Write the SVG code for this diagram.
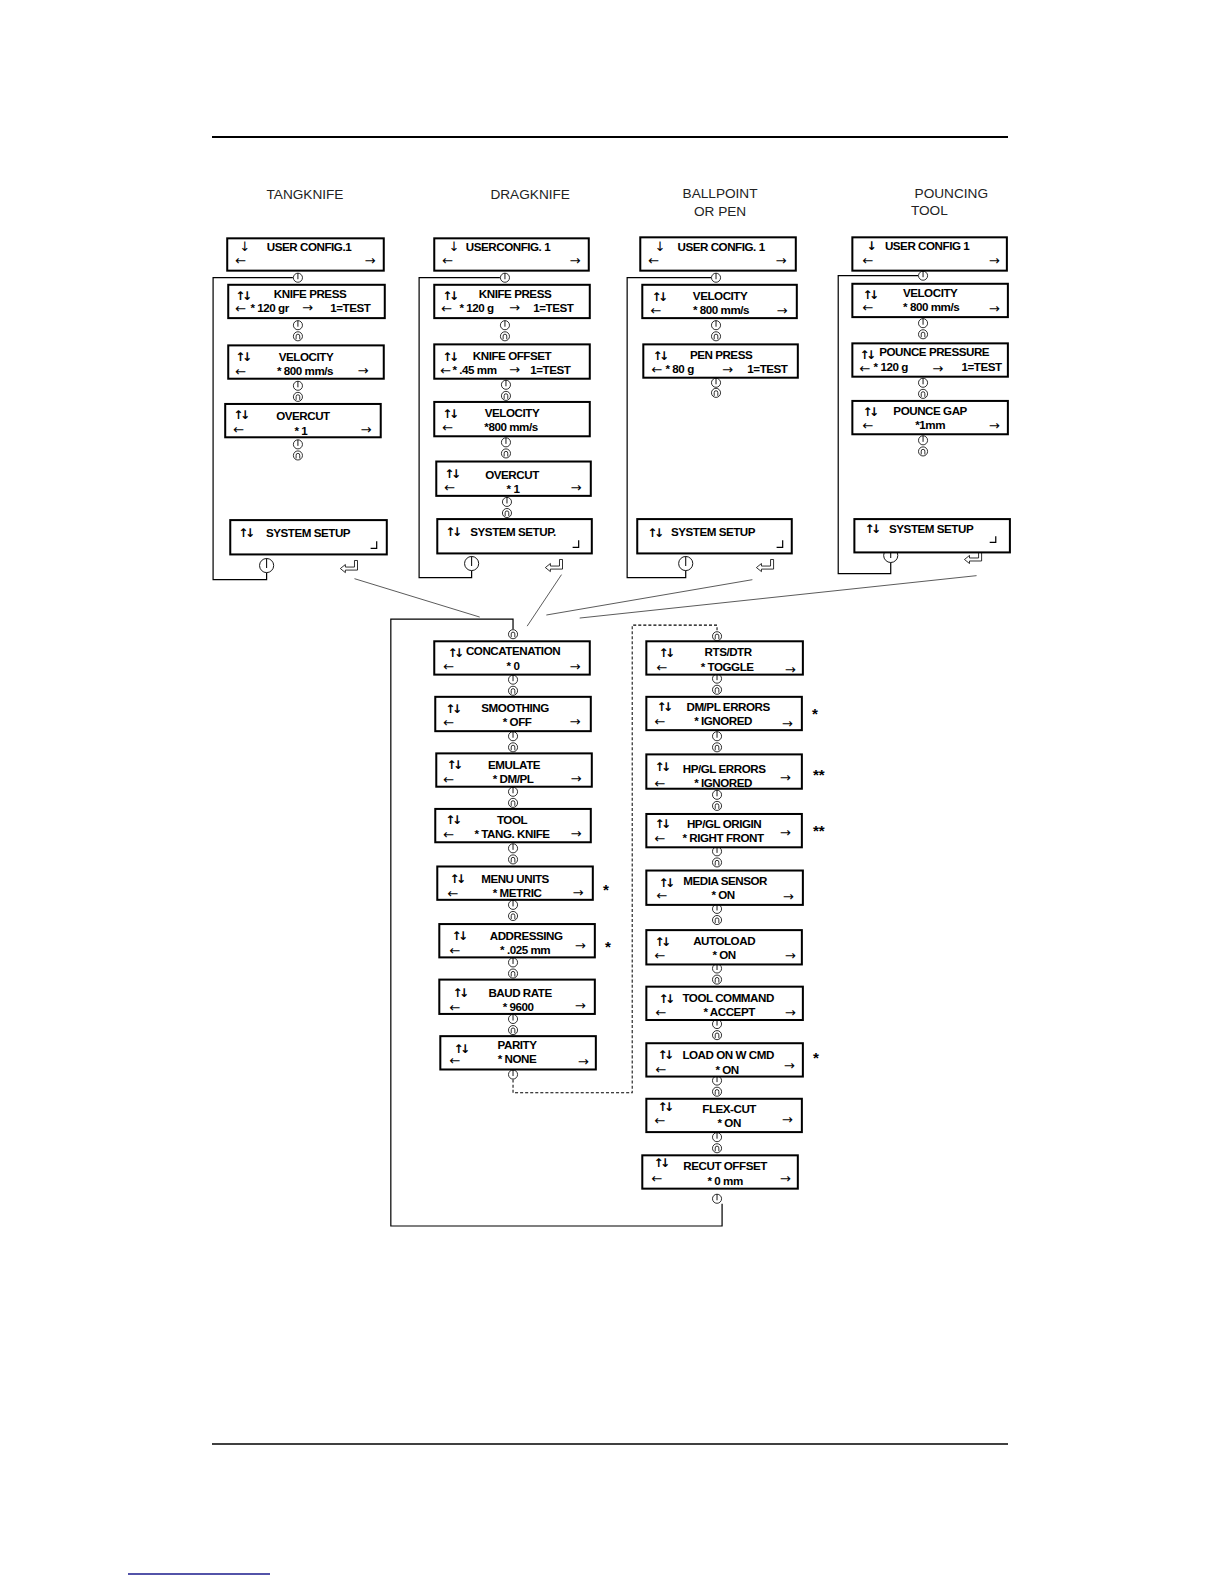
<svg xmlns="http://www.w3.org/2000/svg" xmlns:xlink="http://www.w3.org/1999/xlink" width="1224" height="1584" viewBox="0 0 1224 1584">
<style>
.bx{fill:#fff;stroke:#000;stroke-width:2}
.l{font-family:"Liberation Sans",Arial,sans-serif;font-size:11.5px;font-weight:bold;letter-spacing:-0.45px;text-anchor:middle;fill:#000}
.s{font-family:"Liberation Sans",Arial,sans-serif;font-size:11.5px;font-weight:bold;letter-spacing:-0.45px;fill:#000}
.ar{font-family:"DejaVu Sans",sans-serif;font-size:13px;fill:#000}
.ud{font-family:"DejaVu Sans",sans-serif;font-size:12px;font-weight:bold;letter-spacing:-3.5px;fill:#000}
.h{font-family:"Liberation Sans",Arial,sans-serif;font-size:13.5px;fill:#222;text-anchor:middle}
.st{font-family:"Liberation Sans",Arial,sans-serif;font-size:15px;font-weight:bold;fill:#000}
.ln{fill:none;stroke:#000;stroke-width:1.2}
.thin{fill:none;stroke:#333;stroke-width:0.8}
.dash{fill:none;stroke:#000;stroke-width:1;stroke-dasharray:3,2}
.ent{fill:none;stroke:#000;stroke-width:1.2}
.rule{stroke:#000;stroke-width:2}
</style>
<defs>
<g id="cd"><circle r="4.5" fill="#fff" stroke="#000" stroke-width="0.8"/><path d="M0,-4.5V1.5" stroke="#000" stroke-width="0.9" fill="none"/></g>
<g id="cu"><circle r="4.5" fill="#fff" stroke="#000" stroke-width="0.8"/><path d="M-1.8,3V-0.3a1.8,1.8 0 0 1 3.6,0V3" stroke="#000" stroke-width="0.8" fill="none"/></g>
<g id="cb"><circle r="7" fill="#fff" stroke="#000" stroke-width="0.9"/><path d="M0,-7V2.5" stroke="#000" stroke-width="1" fill="none"/></g>
<g id="ea"><polygon points="0,0 5,-4 5,-1.5 14,-1.5 14,-8 17,-8 17,1.5 5,1.5 5,4" fill="#fff" stroke="#000" stroke-width="0.8"/></g>
</defs>
<rect width="1224" height="1584" fill="#fff"/>
<line class="rule" x1="212" y1="137" x2="1008" y2="137"/>
<line x1="212" y1="1444" x2="1008" y2="1444" stroke="#000" stroke-width="1.5"/>
<line x1="128" y1="1574" x2="270" y2="1574" stroke="#1a1a8c" stroke-width="1.5"/>
<g transform="scale(1.0099)">
<g id="headers">
<text class="h" x="302" y="197">TANGKNIFE</text>
<text class="h" x="525" y="197">DRAGKNIFE</text>
<text class="h" x="713" y="196">BALLPOINT</text>
<text class="h" x="713" y="214">OR PEN</text>
<text class="h" x="942" y="196">POUNCING</text>
<text class="h" x="902" y="213" style="text-anchor:start">TOOL</text>
</g>
<g id="connectors">
<path class="ln" d="M290,275H211V574H264V567"/>
<path class="ln" d="M495,275H415V572H467V565"/>
<path class="ln" d="M704,275H621V572H679V565"/>
<path class="ln" d="M909,273H830V568H882V557"/>
<line class="thin" x1="351" y1="573" x2="475" y2="611"/>
<line class="thin" x1="556" y1="569" x2="522" y2="620"/>
<line class="thin" x1="745" y1="574" x2="541" y2="609"/>
<line class="thin" x1="967" y1="570" x2="574" y2="612"/>
<path class="ln" d="M715,1192V1214H387V613H508V623"/>
<path class="dash" d="M508,1069V1082H626V619H710V625"/>
</g>
<g id="symbols">
<use xlink:href="#cd" x="295" y="275"/><use xlink:href="#cd" x="295" y="322"/><use xlink:href="#cu" x="295" y="333"/><use xlink:href="#cd" x="295" y="382"/><use xlink:href="#cu" x="295" y="393"/><use xlink:href="#cd" x="295" y="440"/><use xlink:href="#cu" x="295" y="451"/><use xlink:href="#cb" x="264" y="560"/><use xlink:href="#ea" x="337" y="563"/>
<use xlink:href="#cd" x="500" y="275"/><use xlink:href="#cd" x="500" y="322"/><use xlink:href="#cu" x="500" y="333"/><use xlink:href="#cd" x="501" y="381"/><use xlink:href="#cu" x="501" y="392"/><use xlink:href="#cd" x="501" y="438"/><use xlink:href="#cu" x="501" y="449"/><use xlink:href="#cd" x="502" y="497"/><use xlink:href="#cu" x="502" y="508"/><use xlink:href="#cb" x="467" y="558"/><use xlink:href="#ea" x="540" y="562"/>
<use xlink:href="#cd" x="709" y="275"/><use xlink:href="#cd" x="709" y="322"/><use xlink:href="#cu" x="709" y="333"/><use xlink:href="#cd" x="709" y="379"/><use xlink:href="#cu" x="709" y="389"/><use xlink:href="#cb" x="679" y="558"/><use xlink:href="#ea" x="749" y="562"/>
<use xlink:href="#cd" x="914" y="273"/><use xlink:href="#cd" x="914" y="320"/><use xlink:href="#cu" x="914" y="331"/><use xlink:href="#cd" x="914" y="379"/><use xlink:href="#cu" x="914" y="390"/><use xlink:href="#cd" x="914" y="436"/><use xlink:href="#cu" x="914" y="447"/><use xlink:href="#cb" x="882" y="550"/><use xlink:href="#ea" x="955" y="554"/>
<use xlink:href="#cu" x="508" y="628"/><use xlink:href="#cd" x="508" y="673"/><use xlink:href="#cu" x="508" y="684"/><use xlink:href="#cd" x="508" y="729"/><use xlink:href="#cu" x="508" y="740"/><use xlink:href="#cd" x="508" y="784"/><use xlink:href="#cu" x="508" y="795"/><use xlink:href="#cd" x="508" y="840"/><use xlink:href="#cu" x="508" y="851"/><use xlink:href="#cd" x="508" y="896"/><use xlink:href="#cu" x="508" y="907"/><use xlink:href="#cd" x="508" y="953"/><use xlink:href="#cu" x="508" y="964"/><use xlink:href="#cd" x="508" y="1009"/><use xlink:href="#cu" x="508" y="1020"/><use xlink:href="#cd" x="508" y="1064"/>
<use xlink:href="#cu" x="710" y="630"/><use xlink:href="#cd" x="710" y="672"/><use xlink:href="#cu" x="710" y="683"/><use xlink:href="#cd" x="710" y="729"/><use xlink:href="#cu" x="710" y="740"/><use xlink:href="#cd" x="710" y="787"/><use xlink:href="#cu" x="710" y="798"/><use xlink:href="#cd" x="710" y="843"/><use xlink:href="#cu" x="710" y="854"/><use xlink:href="#cd" x="710" y="900"/><use xlink:href="#cu" x="710" y="911"/><use xlink:href="#cd" x="710" y="959"/><use xlink:href="#cu" x="710" y="970"/><use xlink:href="#cd" x="710" y="1014"/><use xlink:href="#cu" x="710" y="1025"/><use xlink:href="#cd" x="710" y="1070"/><use xlink:href="#cu" x="710" y="1081"/><use xlink:href="#cd" x="710" y="1126"/><use xlink:href="#cu" x="710" y="1137"/><use xlink:href="#cd" x="710" y="1187"/>
</g>
<!-- TANGKNIFE -->
<g id="t1"><rect class="bx" x="225" y="236" width="155" height="32"/><text class="ar" x="237" y="249">↓</text><text class="l" x="306" y="249">USER CONFIG.1</text><text class="ar" x="233" y="262">←</text><text class="ar" x="361" y="262">→</text></g>
<g id="t2"><rect class="bx" x="226" y="282" width="155" height="33"/><text class="ud" x="233" y="297">↑↓</text><text class="l" x="307" y="295">KNIFE PRESS</text><text class="ar" x="233" y="310">←</text><text class="s" x="248" y="309">* 120 gr</text><text class="ar" x="299" y="309">→</text><text class="s" x="327" y="309">1=TEST</text></g>
<g id="t3"><rect class="bx" x="226" y="342" width="154" height="33"/><text class="ud" x="233" y="357">↑↓</text><text class="l" x="303" y="357">VELOCITY</text><text class="ar" x="233" y="372">←</text><text class="l" x="302" y="371">* 800 mm/s</text><text class="ar" x="354" y="371">→</text></g>
<g id="t4"><rect class="bx" x="223" y="400" width="154" height="33"/><text class="ud" x="231" y="415">↑↓</text><text class="l" x="300" y="416">OVERCUT</text><text class="ar" x="231" y="430">←</text><text class="l" x="298" y="431">* 1</text><text class="ar" x="357" y="430">→</text></g>
<g id="t5"><rect class="bx" x="228" y="515" width="155" height="34"/><text class="ud" x="236" y="532">↑↓</text><text class="l" x="305" y="532">SYSTEM SETUP</text><path class="ent" d="M373,536V543H367"/></g>
<!-- DRAGKNIFE -->
<g id="d1"><rect class="bx" x="430" y="236" width="153" height="32"/><text class="ar" x="444" y="249">↓</text><text class="l" x="503" y="249">USERCONFIG. 1</text><text class="ar" x="438" y="262">←</text><text class="ar" x="564" y="262">→</text></g>
<g id="d2"><rect class="bx" x="430" y="282" width="154" height="33"/><text class="ud" x="438" y="297">↑↓</text><text class="l" x="510" y="295">KNIFE PRESS</text><text class="ar" x="437" y="310">←</text><text class="s" x="455" y="309">* 120 g</text><text class="ar" x="504" y="309">→</text><text class="s" x="528" y="309">1=TEST</text></g>
<g id="d3"><rect class="bx" x="430" y="341" width="154" height="34"/><text class="ud" x="438" y="357">↑↓</text><text class="l" x="507" y="356">KNIFE OFFSET</text><text class="ar" x="436" y="371">←</text><text class="s" x="448" y="370">* .45 mm</text><text class="ar" x="504" y="370">→</text><text class="s" x="525" y="370">1=TEST</text></g>
<g id="d4"><rect class="bx" x="430" y="398" width="154" height="34"/><text class="ud" x="438" y="414">↑↓</text><text class="l" x="507" y="413">VELOCITY</text><text class="ar" x="438" y="428">←</text><text class="l" x="506" y="427">*800 mm/s</text></g>
<g id="d5"><rect class="bx" x="432" y="457" width="153" height="34"/><text class="ud" x="440" y="473">↑↓</text><text class="l" x="507" y="474">OVERCUT</text><text class="ar" x="440" y="487">←</text><text class="l" x="508" y="488">* 1</text><text class="ar" x="565" y="487">→</text></g>
<g id="d6"><rect class="bx" x="433" y="514" width="153" height="34"/><text class="ud" x="441" y="531">↑↓</text><text class="l" x="508" y="531">SYSTEM SETUP.</text><path class="ent" d="M573,535V542H567"/></g>
<!-- BALLPOINT -->
<g id="b1"><rect class="bx" x="634" y="235" width="154" height="33"/><text class="ar" x="648" y="249">↓</text><text class="l" x="714" y="249">USER CONFIG. 1</text><text class="ar" x="642" y="262">←</text><text class="ar" x="768" y="262">→</text></g>
<g id="b2"><rect class="bx" x="636" y="282" width="153" height="33"/><text class="ud" x="645" y="298">↑↓</text><text class="l" x="713" y="297">VELOCITY</text><text class="ar" x="644" y="312">←</text><text class="l" x="714" y="311">* 800 mm/s</text><text class="ar" x="769" y="312">→</text></g>
<g id="b3"><rect class="bx" x="637" y="341" width="153" height="33"/><text class="ud" x="646" y="356">↑↓</text><text class="l" x="714" y="355">PEN PRESS</text><text class="ar" x="645" y="370">←</text><text class="s" x="659" y="369">* 80 g</text><text class="ar" x="715" y="370">→</text><text class="s" x="740" y="369">1=TEST</text></g>
<g id="b4"><rect class="bx" x="631" y="514" width="153" height="34"/><text class="ud" x="641" y="532">↑↓</text><text class="l" x="706" y="531">SYSTEM SETUP</text><path class="ent" d="M775,535V542H769"/></g>
<!-- POUNCING -->
<g id="p1"><rect class="bx" x="844" y="235" width="153" height="33"/><text class="ud" x="858" y="248">↓</text><text class="l" x="918" y="248">USER CONFIG 1</text><text class="ar" x="854" y="262">←</text><text class="ar" x="979" y="262">→</text></g>
<g id="p2"><rect class="bx" x="844" y="281" width="154" height="33"/><text class="ud" x="854" y="296">↑↓</text><text class="l" x="921" y="294">VELOCITY</text><text class="ar" x="854" y="309">←</text><text class="l" x="922" y="308">* 800 mm/s</text><text class="ar" x="979" y="310">→</text></g>
<g id="p3"><rect class="bx" x="844" y="340" width="154" height="33"/><text class="ud" x="851" y="355">↑↓</text><text class="l" x="925" y="353">POUNCE PRESSURE</text><text class="ar" x="851" y="369">←</text><text class="s" x="865" y="367">* 120 g</text><text class="ar" x="923" y="369">→</text><text class="s" x="952" y="367">1=TEST</text></g>
<g id="p4"><rect class="bx" x="844" y="397" width="154" height="33"/><text class="ud" x="854" y="412">↑↓</text><text class="l" x="921" y="411">POUNCE GAP</text><text class="ar" x="854" y="426">←</text><text class="l" x="921" y="425">*1mm</text><text class="ar" x="979" y="426">→</text></g>
<g id="p5"><rect class="bx" x="846" y="514" width="154" height="33"/><text class="ud" x="856" y="528">↑↓</text><text class="l" x="922" y="528">SYSTEM SETUP</text><path class="ent" d="M986,531V537H980"/></g>
<!-- SYSTEM SETUP LEFT -->
<g id="s1"><rect class="bx" x="430" y="635" width="154" height="33"/><text class="ud" x="443" y="651">↑↓</text><text class="l" x="508" y="649">CONCATENATION</text><text class="ar" x="439" y="664">←</text><text class="l" x="508" y="663">* 0</text><text class="ar" x="564" y="664">→</text></g>
<g id="s2"><rect class="bx" x="431" y="690" width="154" height="34"/><text class="ud" x="441" y="706">↑↓</text><text class="l" x="510" y="705">SMOOTHING</text><text class="ar" x="439" y="720">←</text><text class="l" x="512" y="719">* OFF</text><text class="ar" x="564" y="719">→</text></g>
<g id="s3"><rect class="bx" x="432" y="746" width="154" height="33"/><text class="ud" x="442" y="761">↑↓</text><text class="l" x="509" y="761">EMULATE</text><text class="ar" x="439" y="776">←</text><text class="l" x="508" y="775">* DM/PL</text><text class="ar" x="565" y="775">→</text></g>
<g id="s4"><rect class="bx" x="431" y="801" width="154" height="33"/><text class="ud" x="441" y="816">↑↓</text><text class="l" x="507" y="816">TOOL</text><text class="ar" x="439" y="831">←</text><text class="l" x="507" y="830">* TANG. KNIFE</text><text class="ar" x="565" y="830">→</text></g>
<g id="s5"><rect class="bx" x="433" y="858" width="154" height="33"/><text class="ud" x="445" y="874">↑↓</text><text class="l" x="510" y="874">MENU UNITS</text><text class="ar" x="443" y="889">←</text><text class="l" x="512" y="888">* METRIC</text><text class="ar" x="567" y="888">→</text><text class="st" x="597" y="886">*</text></g>
<g id="s6"><rect class="bx" x="435" y="915" width="154" height="33"/><text class="ud" x="447" y="931">↑↓</text><text class="l" x="521" y="931">ADDRESSING</text><text class="ar" x="445" y="946">←</text><text class="l" x="520" y="945">* .025 mm</text><text class="ar" x="569" y="941">→</text><text class="st" x="599" y="943">*</text></g>
<g id="s7"><rect class="bx" x="435" y="970" width="154" height="34"/><text class="ud" x="448" y="987">↑↓</text><text class="l" x="515" y="987">BAUD RATE</text><text class="ar" x="445" y="1002">←</text><text class="l" x="513" y="1001">* 9600</text><text class="ar" x="569" y="1000">→</text></g>
<g id="s8"><rect class="bx" x="436" y="1026" width="154" height="33"/><text class="ud" x="449" y="1043">↑↓</text><text class="l" x="512" y="1039">PARITY</text><text class="ar" x="445" y="1055">←</text><text class="l" x="512" y="1053">* NONE</text><text class="ar" x="572" y="1056">→</text></g>
<!-- SYSTEM SETUP RIGHT -->
<g id="r1"><rect class="bx" x="640" y="635" width="155" height="33"/><text class="ud" x="652" y="651">↑↓</text><text class="l" x="721" y="650">RTS/DTR</text><text class="ar" x="650" y="665">←</text><text class="l" x="720" y="664">* TOGGLE</text><text class="ar" x="777" y="667">→</text></g>
<g id="r2"><rect class="bx" x="640" y="690" width="154" height="33"/><text class="ud" x="650" y="704">↑↓</text><text class="l" x="721" y="704">DM/PL ERRORS</text><text class="ar" x="648" y="719">←</text><text class="l" x="716" y="718">* IGNORED</text><text class="ar" x="774" y="721">→</text><text class="st" x="804" y="712">*</text></g>
<g id="r3"><rect class="bx" x="640" y="747" width="154" height="34"/><text class="ud" x="648" y="763">↑↓</text><text class="l" x="717" y="765">HP/GL ERRORS</text><text class="ar" x="648" y="780">←</text><text class="l" x="716" y="779">* IGNORED</text><text class="ar" x="772" y="774">→</text><text class="st" x="805" y="772">**</text></g>
<g id="r4"><rect class="bx" x="640" y="806" width="154" height="33"/><text class="ud" x="648" y="820">↑↓</text><text class="l" x="717" y="820">HP/GL ORIGIN</text><text class="ar" x="648" y="835">←</text><text class="l" x="716" y="834">* RIGHT FRONT</text><text class="ar" x="772" y="829">→</text><text class="st" x="805" y="828">**</text></g>
<g id="r5"><rect class="bx" x="640" y="862" width="155" height="34"/><text class="ud" x="652" y="878">↑↓</text><text class="l" x="718" y="876">MEDIA SENSOR</text><text class="ar" x="650" y="891">←</text><text class="l" x="716" y="890">* ON</text><text class="ar" x="775" y="892">→</text></g>
<g id="r6"><rect class="bx" x="640" y="921" width="154" height="34"/><text class="ud" x="648" y="937">↑↓</text><text class="l" x="717" y="936">AUTOLOAD</text><text class="ar" x="648" y="951">←</text><text class="l" x="717" y="950">* ON</text><text class="ar" x="777" y="951">→</text></g>
<g id="r7"><rect class="bx" x="640" y="977" width="155" height="33"/><text class="ud" x="652" y="993">↑↓</text><text class="l" x="721" y="992">TOOL COMMAND</text><text class="ar" x="649" y="1007">←</text><text class="l" x="722" y="1006">* ACCEPT</text><text class="ar" x="777" y="1007">→</text></g>
<g id="r8"><rect class="bx" x="640" y="1033" width="155" height="33"/><text class="ud" x="651" y="1049">↑↓</text><text class="l" x="721" y="1049">LOAD ON W CMD</text><text class="ar" x="649" y="1063">←</text><text class="l" x="720" y="1063">* ON</text><text class="ar" x="776" y="1060">→</text><text class="st" x="805" y="1053">*</text></g>
<g id="r9"><rect class="bx" x="640" y="1088" width="154" height="33"/><text class="ud" x="651" y="1100">↑↓</text><text class="l" x="722" y="1102">FLEX-CUT</text><text class="ar" x="648" y="1114">←</text><text class="l" x="722" y="1116">* ON</text><text class="ar" x="774" y="1113">→</text></g>
<g id="r10"><rect class="bx" x="636" y="1144" width="154" height="33"/><text class="ud" x="647" y="1156">↑↓</text><text class="l" x="718" y="1159">RECUT OFFSET</text><text class="ar" x="645" y="1171">←</text><text class="l" x="718" y="1173">* 0 mm</text><text class="ar" x="772" y="1171">→</text></g>
</g>
</svg>
